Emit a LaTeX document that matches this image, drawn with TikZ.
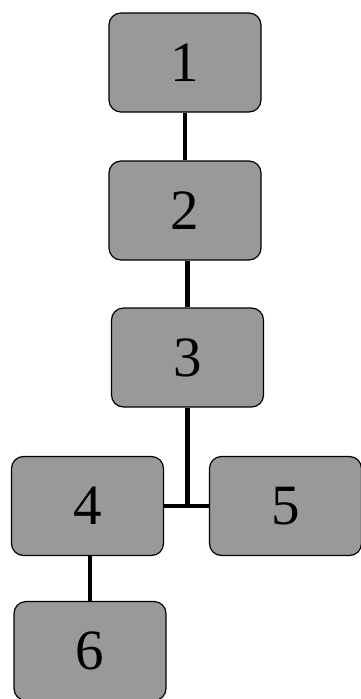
\documentclass[tikz,border=0pt]{standalone}
\usepackage{fontspec}
\setmainfont{Liberation Serif}
\usepackage{tikz}

\begin{document}
\begin{tikzpicture}[x=1pt, y=-1pt,
  main/.style = {draw, very thick, rounded corners=12pt, fill=black!40,
    minimum width=152pt, minimum height=99pt, inner sep=0pt,
    font=\fontsize{57}{57}\selectfont},
  link/.style = {line width=4.5pt}]

\useasboundingbox (0,0) rectangle (361,699);

%% boxes
\node[main] (1) at (185, 62.5) {1};
\node[main] (2) at (185, 210.5) {2};
\node[main] (3) at (187.5, 357.5) {3};
\node[main] (4) at (87.5, 506) {4};
\node[main] (5) at (285.5, 506) {5};
\node[main] (6) at (90, 651) {6};
\coordinate (j) at (187.5, 506);

%%% edges
\draw[link] (1) -- (2);
\draw[link] (2.south -| 3) -- (3) -- (j);
\draw[link] (4) -- (5);
\draw[link] (4.south -| 6) -- (6);

\end{tikzpicture}
\end{document}
